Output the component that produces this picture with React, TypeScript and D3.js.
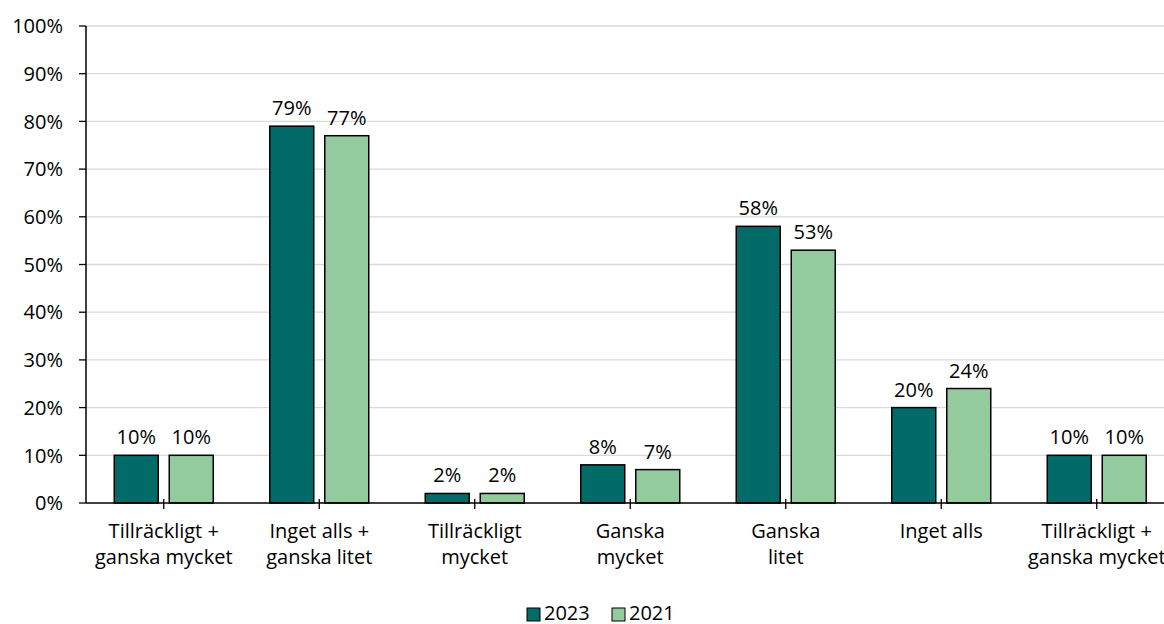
import React from "react";
import * as d3 from "d3";

const categories: string[][] = [
  ["Tillräckligt +", "ganska mycket"],
  ["Inget alls +", "ganska litet"],
  ["Tillräckligt", "mycket"],
  ["Ganska", "mycket"],
  ["Ganska", "litet"],
  ["Inget alls"],
  ["Tillräckligt +", "ganska mycket"],
];
const series2023 = [10, 79, 2, 8, 58, 20, 10];
const series2021 = [10, 77, 2, 7, 53, 24, 10];
const seriesNames = ["2023", "2021"];
const yTicks = [0, 10, 20, 30, 40, 50, 60, 70, 80, 90, 100];

const colors = ["#006B67", "#93CB9F"];
const FONT = "'Open Sans', sans-serif";
const FS = 20;

export default function App() {
  const W = 1164, H = 624;
  const left = 86, top = 26, bottom = 503;
  const step = 155.5;
  const right = left + step * categories.length;
  const x = d3.scaleBand<number>().domain(d3.range(categories.length)).range([left, right]).paddingInner(0).paddingOuter(0);
  const y = d3.scaleLinear().domain([0, 100]).range([bottom, top]);
  const barW = 44, gap = 11;
  const all = [series2023, series2021];

  return (
    <svg width={W} height={H} style={{ position: "absolute", left: 0, top: 0, background: "#fff" }} fontFamily={FONT}>
      {yTicks.map((t) => (
        <g key={t}>
          {t > 0 && <line x1={left} x2={W} y1={y(t)} y2={y(t)} stroke="#d9d9d9" strokeWidth={1.3} />}
          <line x1={left - 7} x2={left} y1={y(t)} y2={y(t)} stroke="#000" strokeWidth={1.3} />
          <text x={63} y={y(t)} dy="0.36em" textAnchor="end" fontSize={FS} fill="#000">{t}%</text>
        </g>
      ))}
      {categories.map((c, i) => {
        const cx = (x(i) as number) + x.bandwidth() / 2;
        return (
          <g key={i}>
            {all.map((s, k) => {
              const bx = k === 0 ? cx - gap / 2 - barW : cx + gap / 2;
              return (
                <g key={k}>
                  <rect x={bx} y={y(s[i])} width={barW} height={bottom - y(s[i])} fill={colors[k]} stroke="#000" strokeWidth={1.5} />
                  <text x={bx + barW / 2} y={y(s[i]) - 11} textAnchor="middle" fontSize={FS} fill="#000">{s[i]}%</text>
                </g>
              );
            })}
            <line x1={cx} x2={cx} y1={bottom - 4} y2={bottom + 6} stroke="#000" strokeWidth={1.3} />
            {c.map((line, j) => (
              <text key={j} x={cx} y={538 + j * 26} textAnchor="middle" fontSize={FS} fill="#000">{line}</text>
            ))}
          </g>
        );
      })}
      <line x1={left} x2={left} y1={top} y2={bottom} stroke="#000" strokeWidth={1.5} />
      <line x1={left} x2={W} y1={bottom} y2={bottom} stroke="#000" strokeWidth={1.5} />
      {seriesNames.map((n, k) => {
        const lx = 527 + k * 85;
        return (
          <g key={n}>
            <rect x={lx} y={608} width={13} height={13} fill={colors[k]} stroke="#000" strokeWidth={1} />
            <text x={lx + 17} y={620} fontSize={FS} fill="#000">{n}</text>
          </g>
        );
      })}
    </svg>
  );
}
